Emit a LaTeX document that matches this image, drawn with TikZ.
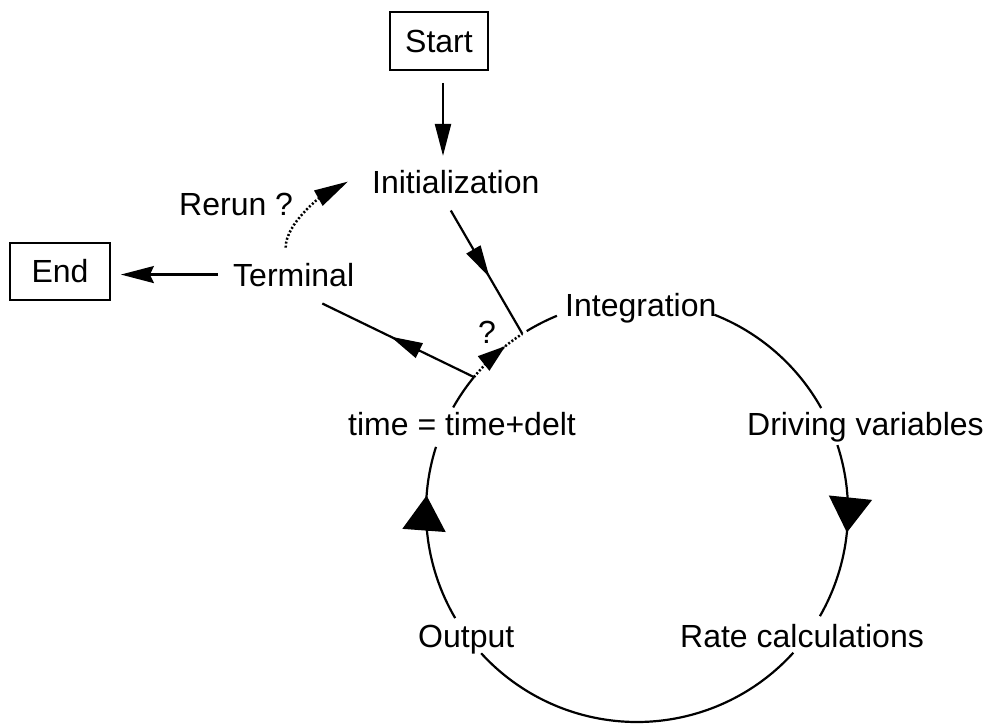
\documentclass[tikz,border=0pt]{standalone}
\usepackage{fontspec}
\setmainfont{Liberation Sans}
\usetikzlibrary{arrows.meta,decorations.markings}
\begin{document}
\begin{tikzpicture}[x=1pt,y=1pt,
  lbl/.style={font=\fontsize{32}{38}\selectfont, inner sep=0pt, anchor=base west},
  box/.style={draw, line width=1.8pt, minimum width=98pt, minimum height=58pt, inner sep=0pt, font=\fontsize{32}{38}\selectfont},
  conn/.style={line width=2.2pt},
  dots/.style={line width=2.5pt, dash pattern=on 2pt off 2pt},
  smalltip/.tip={Triangle[length=32pt,width=16pt]},
  qtip/.tip={Triangle[length=28pt,width=18pt]},
  bigtip/.tip={Triangle[length=35pt,width=43pt]},
  markat/.style 2 args={postaction={decorate}, decoration={markings, mark=at position #1 with {\arrow{#2}}}},
]
\useasboundingbox (0,0) rectangle (989,-726);

% nodes
\node[box] (start) at (439,-41) {Start};
\node[box, minimum width=100pt, minimum height=57pt] (endbox) at (60,-271.5) {End};
\node[lbl] (init) at (372,-193) {Initialization};
\node[lbl] (rerun) at (179,-215) {Rerun ?};
\node[lbl] (term) at (233,-286) {Terminal};
\node[lbl] (integ) at (565,-316) {Integration};
\node[lbl] (q) at (478,-343) {?};
\node[lbl] (time) at (348,-435) {time = time+delt};
\node[lbl] (drive) at (747,-435) {Driving variables};
\node[lbl] (out) at (418,-647) {Output};
\node[lbl] (rate) at (680,-647) {Rate calculations};

% circle
\coordinate (C) at (637,-511);
\coordinate (J1) at ([shift={(140.6:211)}]C);
\coordinate (J2) at ([shift={(122.9:211)}]C);

\draw[conn] ([shift={(150.6:211)}]C) arc[start angle=150.6,end angle=140.6,radius=211];
\draw[dots, markat={0.68}{qtip}] (J1) arc[start angle=140.6,end angle=122.9,radius=211];
\draw[conn] ([shift={(121.5:211)}]C) arc[start angle=121.5,end angle=112.3,radius=211];
\draw[conn] ([shift={(68.5:211)}]C) arc[start angle=68.5,end angle=29.2,radius=211];
\draw[conn, markat={0.5}{bigtip}] ([shift={(18.2:211)}]C) arc[start angle=18.2,end angle=-29.9,radius=211];
\draw[conn] ([shift={(-42.2:211)}]C) arc[start angle=-42.2,end angle=-137.6,radius=211];
\draw[conn, markat={0.72}{bigtip}] ([shift={(210.5:211)}]C) arc[start angle=210.5,end angle=162.3,radius=211];

% connectors
\draw[conn, -{smalltip}] ([shift={(4,-12)}]start.south) -- ([shift={(4,-85)}]start.south);
\draw[conn, markat={0.54}{smalltip}] ([shift={(-5,-17)}]init.south) -- (J2);
\draw[conn, markat={0.55}{smalltip}] (J1) -- ([shift={(-32,-17)}]term.south east);
\draw[conn, -{Stealth[length=33pt,width=17pt,inset=4pt]}, shorten <=15pt, shorten >=10pt] (term.west) -- (term.west -| endbox.east);
\draw[dots, -{Triangle[length=34pt,width=17pt]}] ([shift={(-8,15)}]term.north) .. controls +(0,25) and +(-25,-14) .. ([xshift=-24pt]init.west);
\end{tikzpicture}
\end{document}
